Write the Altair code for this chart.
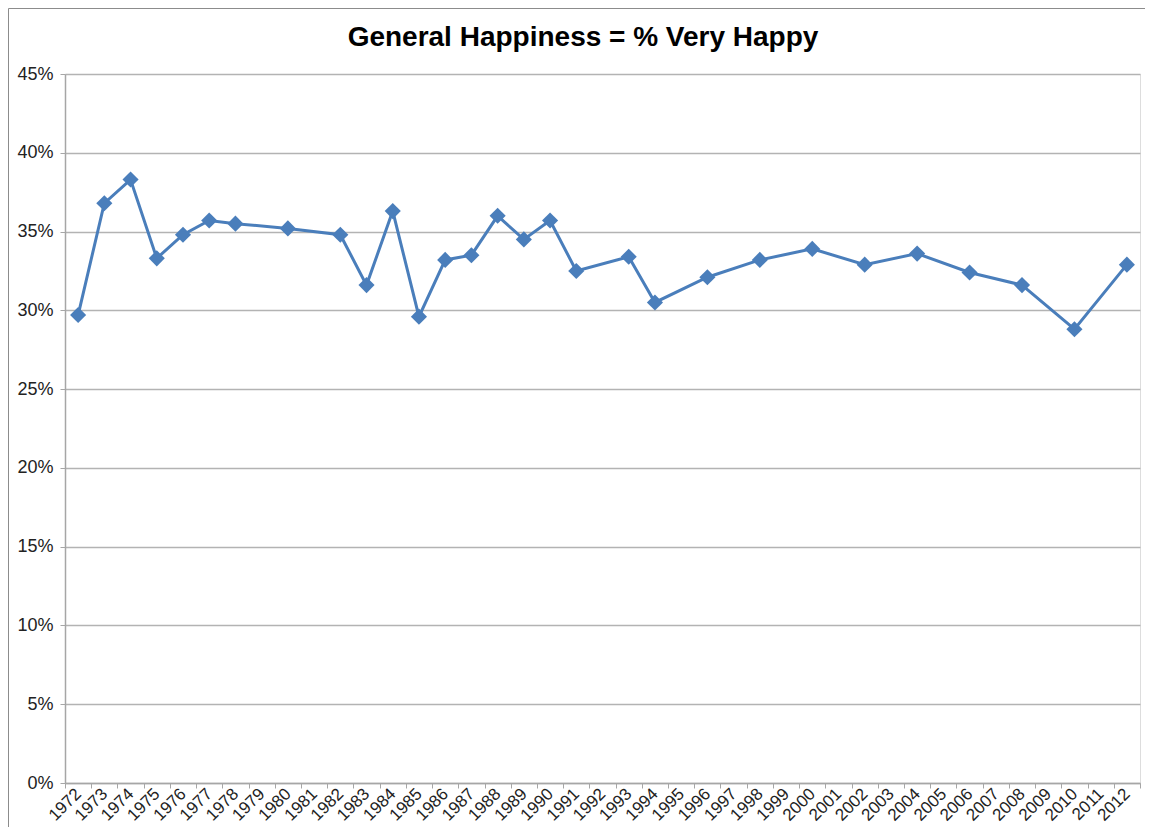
import altair as alt
import pandas as pd

all_years = [str(y) for y in range(1972, 2013)]
years = ["1972", "1973", "1974", "1975", "1976", "1977", "1978", "1980", "1982", "1983",
         "1984", "1985", "1986", "1987", "1988", "1989", "1990", "1991", "1993", "1994",
         "1996", "1998", "2000", "2002", "2004", "2006", "2008", "2010", "2012"]
pct_very_happy = [29.7, 36.8, 38.3, 33.3, 34.8, 35.7, 35.5, 35.2, 34.8, 31.6,
                  36.3, 29.6, 33.2, 33.5, 36.0, 34.5, 35.7, 32.5, 33.4, 30.5,
                  32.1, 33.2, 33.9, 32.9, 33.6, 32.4, 31.6, 28.8, 32.9]
y_ticks = [0, 0.05, 0.10, 0.15, 0.20, 0.25, 0.30, 0.35, 0.40, 0.45]
title_text = "General Happiness = % Very Happy"

df = pd.DataFrame({"year": years, "value": [v / 100 for v in pct_very_happy]})

FONT = "Liberation Sans"
BLUE = "#4a7ebb"

x_enc = alt.X(
    "year:O",
    bandPosition=0.5,
    scale=alt.Scale(type="band", domain=all_years, paddingInner=0, paddingOuter=0),
    axis=alt.Axis(
        title=None, tickBand="extent", labelAngle=-45, labelAlign="right",
        labelBaseline="middle", labelFontSize=17, labelFont=FONT, labelColor="#222222",
        labelPadding=3, labelOverlap=False, tickSize=5, tickColor="#a6a6a6",
        domainColor="#a6a6a6", domainWidth=1.5, grid=False,
    ),
)
y_enc = alt.Y(
    "value:Q",
    scale=alt.Scale(domain=[0, 0.45], nice=False),
    axis=alt.Axis(
        title=None, format=".0%", values=y_ticks, labelFontSize=18, labelFont=FONT,
        labelColor="#222222", labelPadding=7, tickSize=5, tickColor="#a6a6a6",
        domainColor="#a6a6a6", domainWidth=1.5, gridColor="#b3b3b3", gridWidth=1.5,
    ),
)

base = alt.Chart(df)
line = base.mark_line(color=BLUE, strokeWidth=3).encode(x=x_enc, y=y_enc)
pts = base.mark_point(shape="diamond", filled=True, size=260, color=BLUE, opacity=1).encode(
    x=x_enc, y=y_enc
)

frame = alt.Chart(pd.DataFrame({"a": [0]})).mark_rect(
    fill=None, stroke="#8c8c8c", strokeWidth=1
).encode(
    x=alt.value(-56.5), x2=alt.value(1200), y=alt.value(-65.5), y2=alt.value(900)
)

title = alt.Chart(pd.DataFrame({"t": [title_text]})).mark_text(
    font=FONT, fontSize=28, fontWeight="bold", color="#000000",
    align="center", baseline="alphabetic",
).encode(text="t:N", x=alt.value(518), y=alt.value(-28))

chart = alt.layer(frame, line, pts, title).properties(
    width=1075,
    height=709,
    autosize=alt.AutoSizeParams(type="none"),
    padding={"left": 57, "top": 66, "right": 5, "bottom": 44},
).configure_view(stroke=None).configure(background="white")

chart.save("out.html", embed_options={"renderer": "svg", "actions": False})
